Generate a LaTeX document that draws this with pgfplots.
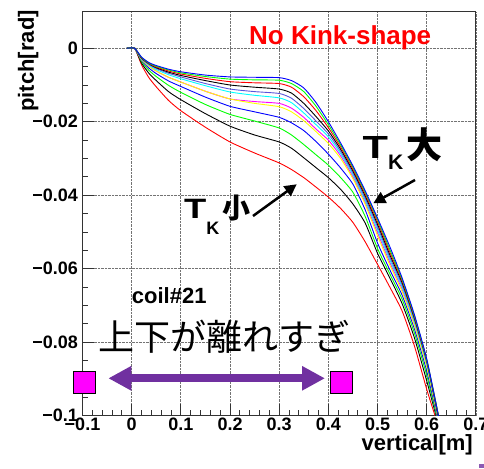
\documentclass[border=0pt]{standalone}
\usepackage{graphicx}
\usepackage{fontspec}
\setmainfont{Liberation Sans}
\newfontfamily\cjk{Noto Sans CJK JP}
\newfontfamily\cjkb{Noto Sans CJK JP Bold}
\usepackage{pgfplots}
\pgfplotsset{compat=1.18}
\usetikzlibrary{arrows.meta}

\definecolor{rootred}{rgb}{1,0,0}
\definecolor{rootgreen}{rgb}{0,1,0}
\definecolor{rootblue}{rgb}{0,0,1}
\definecolor{rootyellow}{rgb}{1,1,0}
\definecolor{rootmagenta}{rgb}{1,0,1}
\definecolor{rootcyan}{rgb}{0,1,1}
\definecolor{rootviolet}{rgb}{0.35,0.33,0.85}
\definecolor{arrowpurple}{HTML}{7030A0}

\begin{document}
\begin{tikzpicture}
\begin{axis}[
  name=main,
  scale only axis, width=393.4pt, height=404.3pt,
  xmin=-0.1, xmax=0.7, ymin=-0.1, ymax=0.01,
  xtick={-0.1,0,0.1,0.2,0.3,0.4,0.5,0.6,0.7},
  xticklabels={−0.1,0,0.1,0.2,0.3,0.4,0.5,0.6,0.7},
  ytick={-0.1,-0.08,-0.06,-0.04,-0.02,0},
  yticklabels={−0.1,−0.08,−0.06,−0.04,−0.02,0},
  minor x tick num=4, minor y tick num=3,
  tick align=inside, tick pos=left,
  major tick length=12pt, minor tick length=6pt,
  grid=major,
  major grid style={densely dotted, black!55, line width=0.8pt},
  axis line style={line width=1pt, black!80},
  tick style={line width=0.9pt, black!80},
  ticklabel style={font=\bfseries\fontsize{18}{18}\selectfont},
  xticklabel style={inner sep=0pt, anchor=north, yshift=-1.5pt},
  yticklabel style={inner sep=0pt, anchor=east, xshift=-4.5pt},
  clip=false,
  every axis plot/.append style={line width=0.9pt, smooth, tension=0.35},
]
% coil #21, trajectories ordered from smallest to largest T_K
\addplot[rootred] coordinates {(-0.01,0) (0.006,0) (0.02,-0.0045) (0.035,-0.0080) (0.05,-0.0105) (0.075,-0.0142) (0.1,-0.0170) (0.15,-0.0215) (0.2,-0.0255) (0.25,-0.0285) (0.3,-0.0312) (0.325,-0.0330) (0.35,-0.0352) (0.375,-0.0378) (0.4,-0.0405) (0.425,-0.0436) (0.45,-0.0474) (0.475,-0.0527) (0.5,-0.0588) (0.525,-0.0650) (0.55,-0.0715) (0.575,-0.0810) (0.6,-0.0928) (0.617,-0.1)};
\addplot[black] coordinates {(-0.01,0) (0.006,0) (0.02,-0.0040) (0.035,-0.0068) (0.05,-0.0088) (0.075,-0.0118) (0.1,-0.0140) (0.15,-0.0178) (0.2,-0.0212) (0.25,-0.0236) (0.3,-0.0255) (0.325,-0.0272) (0.35,-0.0298) (0.375,-0.0325) (0.4,-0.0352) (0.425,-0.0384) (0.45,-0.0424) (0.475,-0.0476) (0.5,-0.0558) (0.525,-0.0625) (0.55,-0.0695) (0.575,-0.0788) (0.6,-0.0905) (0.619,-0.1)};
\addplot[rootgreen] coordinates {(-0.01,0) (0.006,0) (0.02,-0.0036) (0.035,-0.0060) (0.05,-0.0077) (0.075,-0.0101) (0.1,-0.0120) (0.15,-0.0153) (0.2,-0.0180) (0.25,-0.0198) (0.3,-0.0217) (0.325,-0.0236) (0.35,-0.0262) (0.375,-0.0290) (0.4,-0.0318) (0.425,-0.0352) (0.45,-0.0392) (0.475,-0.0458) (0.5,-0.0545) (0.525,-0.0614) (0.55,-0.0683) (0.575,-0.0775) (0.6,-0.0890) (0.620,-0.1)};
\addplot[rootblue] coordinates {(-0.01,0) (0.006,0) (0.02,-0.0033) (0.035,-0.0054) (0.05,-0.0069) (0.075,-0.0089) (0.1,-0.0104) (0.15,-0.0133) (0.2,-0.0158) (0.25,-0.0173) (0.3,-0.0188) (0.325,-0.0203) (0.35,-0.0224) (0.375,-0.0254) (0.4,-0.0288) (0.425,-0.0326) (0.45,-0.0370) (0.475,-0.0440) (0.5,-0.0530) (0.525,-0.0603) (0.55,-0.0672) (0.575,-0.0764) (0.6,-0.0878) (0.621,-0.1)};
\addplot[rootmagenta] coordinates {(-0.01,0) (0.006,0) (0.02,-0.0031) (0.035,-0.0049) (0.05,-0.0062) (0.075,-0.0079) (0.1,-0.0092) (0.15,-0.0117) (0.2,-0.0138) (0.25,-0.0145) (0.3,-0.0150) (0.325,-0.0163) (0.35,-0.0188) (0.375,-0.0220) (0.4,-0.0250) (0.425,-0.0293) (0.45,-0.0350) (0.475,-0.0420) (0.5,-0.0502) (0.525,-0.0583) (0.55,-0.0656) (0.575,-0.0749) (0.6,-0.0862) (0.622,-0.1)};
\addplot[rootyellow] coordinates {(-0.01,0) (0.006,0) (0.02,-0.0031) (0.035,-0.0049) (0.05,-0.0062) (0.075,-0.0079) (0.1,-0.0092) (0.15,-0.0117) (0.2,-0.0138) (0.25,-0.0150) (0.3,-0.0159) (0.325,-0.0173) (0.35,-0.0197) (0.375,-0.0227) (0.4,-0.0259) (0.425,-0.0300) (0.45,-0.0355) (0.475,-0.0425) (0.5,-0.0510) (0.525,-0.0590) (0.55,-0.0662) (0.575,-0.0754) (0.6,-0.0867) (0.622,-0.1)};
\addplot[rootcyan] coordinates {(-0.01,0) (0.006,0) (0.02,-0.0029) (0.035,-0.0046) (0.05,-0.0058) (0.075,-0.0072) (0.1,-0.0083) (0.15,-0.0102) (0.2,-0.0119) (0.25,-0.0128) (0.3,-0.0135) (0.325,-0.0148) (0.35,-0.0176) (0.375,-0.0208) (0.4,-0.0241) (0.425,-0.0287) (0.45,-0.0344) (0.475,-0.0414) (0.5,-0.0494) (0.525,-0.0576) (0.55,-0.0650) (0.575,-0.0744) (0.6,-0.0858) (0.623,-0.1)};
\addplot[rootviolet] coordinates {(-0.01,0) (0.006,0) (0.02,-0.0028) (0.035,-0.0044) (0.05,-0.0055) (0.075,-0.0068) (0.1,-0.0078) (0.15,-0.0096) (0.2,-0.0111) (0.25,-0.0118) (0.3,-0.0123) (0.325,-0.0136) (0.35,-0.0164) (0.375,-0.0198) (0.4,-0.0233) (0.425,-0.0281) (0.45,-0.0339) (0.475,-0.0408) (0.5,-0.0486) (0.525,-0.0569) (0.55,-0.0644) (0.575,-0.0739) (0.6,-0.0854) (0.623,-0.1)};
\addplot[black] coordinates {(-0.01,0) (0.006,0) (0.02,-0.0027) (0.035,-0.0042) (0.05,-0.0053) (0.075,-0.0065) (0.1,-0.0074) (0.15,-0.0088) (0.2,-0.0100) (0.25,-0.0106) (0.3,-0.0111) (0.325,-0.0122) (0.35,-0.0150) (0.375,-0.0186) (0.4,-0.0225) (0.425,-0.0275) (0.45,-0.0334) (0.475,-0.0402) (0.5,-0.0479) (0.525,-0.0562) (0.55,-0.0638) (0.575,-0.0735) (0.6,-0.0851) (0.623,-0.1)};
\addplot[rootred] coordinates {(-0.01,0) (0.006,0) (0.02,-0.0026) (0.035,-0.0041) (0.05,-0.0051) (0.075,-0.0062) (0.1,-0.0070) (0.15,-0.0082) (0.2,-0.0091) (0.25,-0.0094) (0.3,-0.0096) (0.325,-0.0106) (0.35,-0.0132) (0.375,-0.0170) (0.4,-0.0216) (0.425,-0.0269) (0.45,-0.0329) (0.475,-0.0397) (0.5,-0.0472) (0.525,-0.0555) (0.55,-0.0633) (0.575,-0.0731) (0.6,-0.0849) (0.624,-0.1)};
\addplot[rootgreen] coordinates {(-0.01,0) (0.006,0) (0.02,-0.0025) (0.035,-0.0040) (0.05,-0.0049) (0.075,-0.0059) (0.1,-0.0067) (0.15,-0.0077) (0.2,-0.0084) (0.25,-0.0086) (0.3,-0.0087) (0.325,-0.0096) (0.35,-0.0118) (0.375,-0.0158) (0.4,-0.0208) (0.425,-0.0263) (0.45,-0.0324) (0.475,-0.0392) (0.5,-0.0466) (0.525,-0.0548) (0.55,-0.0629) (0.575,-0.0728) (0.6,-0.0847) (0.624,-0.1)};
\addplot[rootblue] coordinates {(-0.01,0) (0.006,0) (0.02,-0.0024) (0.035,-0.0039) (0.05,-0.0047) (0.075,-0.0057) (0.1,-0.0064) (0.15,-0.0073) (0.2,-0.0078) (0.25,-0.0079) (0.3,-0.0080) (0.325,-0.0088) (0.35,-0.0108) (0.375,-0.0148) (0.4,-0.0200) (0.425,-0.0258) (0.45,-0.0320) (0.475,-0.0388) (0.5,-0.0462) (0.525,-0.0540) (0.55,-0.0625) (0.575,-0.0725) (0.6,-0.0845) (0.624,-0.1)};
% end points of the span that is too wide
\addplot[only marks, mark=square*, mark size=10.8pt, mark options={fill=rootmagenta, draw=none}]
  coordinates {(-0.0966,-0.0909) (0.4263,-0.0909)};
\end{axis}

\begin{scope}[x=1pt, y=1pt, xshift=-82.5pt, yshift=-52.2pt]
% titles
\node[anchor=base west, inner sep=0pt, text=rootred, font=\bfseries\fontsize{26}{26}\selectfont] at (249,423.7) {No Kink-shape};
\node[anchor=east, inner sep=0pt, rotate=90, font=\bfseries\fontsize{22}{22}\selectfont] at (28.3,458) {pitch[rad]};
\node[anchor=east, inner sep=0pt, font=\bfseries\fontsize{22}{22}\selectfont] at (473,23) {vertical[m]};
\node[anchor=base west, inner sep=0pt, font=\bfseries\fontsize{22}{22}\selectfont] at (131.7,164) {coil\#21};

% T_K labels
\node[anchor=base west, inner sep=0pt] at (184,249.7)
  {\bfseries\fontsize{28}{28}\selectfont\scalebox{1.3}[1]{T}\raisebox{-16.7pt}{\fontsize{18}{18}\selectfont K}\hspace{3pt}{\cjkb\fontsize{28}{28}\selectfont 小}};
\draw[-{Triangle[length=12pt,width=12pt]}, line width=2.5pt] (253,252) -- (296.7,283.7);
\node[anchor=base west, inner sep=0pt] at (362.5,309.7)
  {\bfseries\fontsize{32}{32}\selectfont\scalebox{1.3}[1]{T}\raisebox{-11.7pt}{\fontsize{21}{21}\selectfont K}\hspace{3pt}{\cjkb\fontsize{36}{36}\selectfont 大}};
\draw[-{Triangle[length=12pt,width=12pt]}, line width=2.5pt] (415,288) -- (373.3,264.7);

% span annotation
\node[anchor=base west, inner sep=0pt] at (98,117) {\cjk\fontsize{36}{36}\selectfont 上下が離れすぎ};
\draw[{Triangle[length=23pt,width=23pt]}-{Triangle[length=23pt,width=23pt]}, line width=8pt, arrowpurple] (108.3,89.7) -- (325,89.7);

\fill[arrowpurple!80] (479,0) rectangle (484,4);

\pgfresetboundingbox
\path[use as bounding box] (0,0) rectangle (484,468);
\end{scope}
\end{tikzpicture}
\end{document}
